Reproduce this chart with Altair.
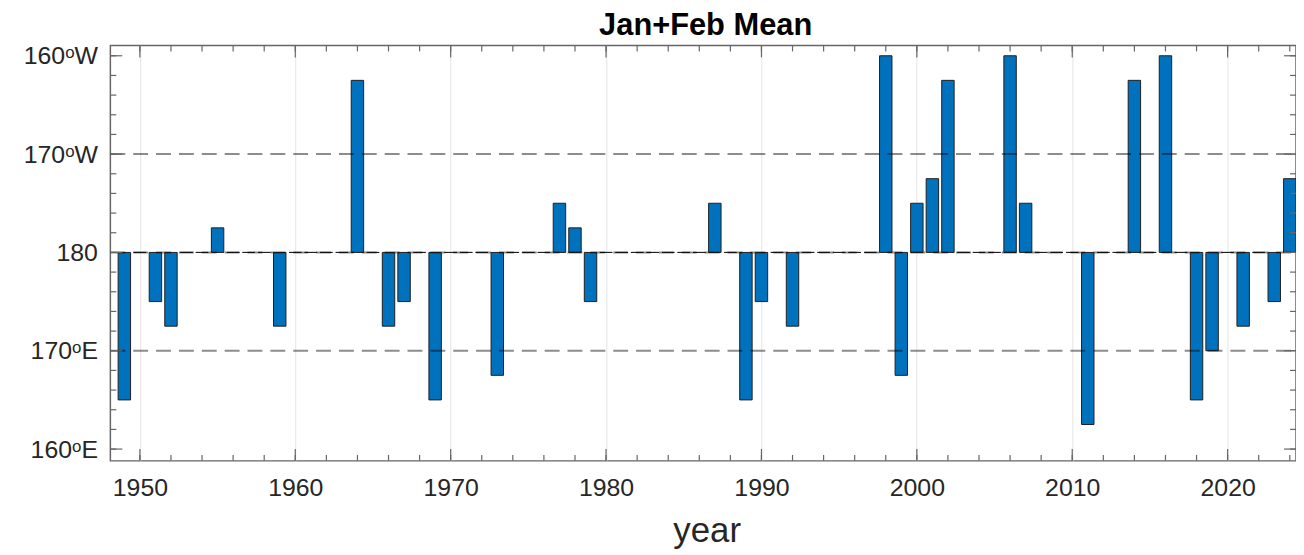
import altair as alt
import pandas as pd

# ---- data (degrees relative to the dateline; + = west of 180, - = east) ----
years = list(range(1949, 2025))
offsets = [
    -15, 0, -5, -7.5, 0, 0, 2.5, 0, 0, 0,        # 1949-1958
    -7.5, 0, 0, 0, 0, 17.5, 0, -7.5, -5, 0,      # 1959-1968
    -15, 0, 0, 0, -12.5, 0, 0, 0, 5, 2.5,        # 1969-1978
    -5, 0, 0, 0, 0, 0, 0, 0, 5, 0,               # 1979-1988
    -15, -5, 0, -7.5, 0, 0, 0, 0, 0, 20,         # 1989-1998
    -12.5, 5, 7.5, 17.5, 0, 0, 0, 20, 5, 0,      # 1999-2008
    0, 0, -17.5, 0, 0, 17.5, 0, 20, 0, -15,      # 2009-2018
    -10, 0, -7.5, 0, -5, 7.5,                    # 2019-2024
]
ytick_vals = [20, 10, 0, -10, -20]
ytick_text = ["160ᵒW", "170ᵒW", "180", "170ᵒE", "160ᵒE"]
xtick_vals = [1950, 1960, 1970, 1980, 1990, 2000, 2010, 2020]
x_minor = [1950, 1952, 1954, 1956, 1958, 1960, 1962, 1964, 1966, 1968,
           1970, 1972, 1974, 1976, 1978, 1980, 1982, 1984, 1986, 1988,
           1990, 1992, 1994, 1996, 1998, 2000, 2002, 2004, 2006, 2008,
           2010, 2012, 2014, 2016, 2018, 2020, 2022, 2024]
y_minor = [-20, -18, -16, -14, -12, -10, -8, -6, -4, -2, 0,
           2, 4, 6, 8, 10, 12, 14, 16, 18, 20]
dash_levels = [10, 0, -10]
title_text = "Jan+Feb Mean"

W, H = 1193, 418
FONT = "Liberation Sans"
TXT = "#262626"
BOX = "#666666"

bars = pd.DataFrame({"year": years, "v": offsets})

xs = alt.Scale(domain=[1948.1, 2024.4], nice=False, zero=False)
ys = alt.Scale(domain=[-21.2, 21.05], nice=False, zero=False)

expr = "''"
for v, t in zip(ytick_vals, ytick_text):
    expr = f"datum.value == {v} ? '{t}' : ({expr})"

x_axis = alt.Axis(values=xtick_vals, format="d", grid=True, gridColor="#e4e4e4", gridWidth=1,
                  ticks=False, tickSize=0, domain=False, labelFont=FONT, labelFontSize=25,
                  labelColor=TXT, labelPadding=15, labelFlush=False,
                  title="year", titleFont=FONT, titleFontSize=35, titleFontWeight="normal",
                  titleColor=TXT, titleBaseline="alphabetic", titleX=600, titleY=81,
                  titleAnchor="start", titleAlign="center")
y_axis = alt.Axis(values=ytick_vals, labelExpr=expr, grid=False, ticks=False, tickSize=0,
                  domain=False, labelFont=FONT, labelFontSize=25, labelColor=TXT,
                  labelPadding=13, title=None)

bar_layer = alt.Chart(bars).transform_calculate(
    x0="datum.year - 0.4", x1="datum.year + 0.4", z="0"
).mark_rect(fill="#0072BD", stroke="#1f1f1f", strokeWidth=1).encode(
    x=alt.X("x0:Q", scale=xs, axis=x_axis),
    x2="x1:Q",
    y=alt.Y("v:Q", scale=ys, axis=y_axis),
    y2="z:Q",
)

dash_layer = alt.Chart(pd.DataFrame({"lev": dash_levels})).mark_rule(
    stroke="black", strokeOpacity=0.45, strokeWidth=2, strokeDash=[15, 8]
).encode(y=alt.Y("lev:Q", scale=ys, axis=y_axis), x=alt.value(0), x2=alt.value(W))

def xticks(vals, length):
    d = pd.DataFrame({"t": vals})
    bot = alt.Chart(d).mark_rule(stroke=BOX, strokeWidth=1.2).encode(
        x=alt.X("t:Q", scale=xs, axis=x_axis), y=alt.value(H), y2=alt.value(H - length))
    top = alt.Chart(d).mark_rule(stroke=BOX, strokeWidth=1.2).encode(
        x=alt.X("t:Q", scale=xs, axis=x_axis), y=alt.value(0), y2=alt.value(length))
    return [bot, top]

def yticks(vals, length):
    d = pd.DataFrame({"t": vals})
    left = alt.Chart(d).mark_rule(stroke=BOX, strokeWidth=1.2).encode(
        y=alt.Y("t:Q", scale=ys, axis=y_axis), x=alt.value(0), x2=alt.value(length))
    right = alt.Chart(d).mark_rule(stroke=BOX, strokeWidth=1.2).encode(
        y=alt.Y("t:Q", scale=ys, axis=y_axis), x=alt.value(W), x2=alt.value(W - length))
    return [left, right]

title_layer = alt.Chart(pd.DataFrame({"t": [title_text]})).mark_text(
    font=FONT, fontSize=31, fontWeight="bold", color="black",
    align="center", baseline="alphabetic"
).encode(text="t:N", x=alt.value(599), y=alt.value(-11))

layers = [bar_layer, dash_layer] + xticks(xtick_vals, 12) + xticks(x_minor, 6) \
    + yticks(ytick_vals, 12) + yticks(y_minor, 6) + [title_layer]

chart = alt.layer(*layers).properties(
    width=W, height=H,
    autosize="none",
    padding={"left": 103, "top": 36, "right": 0, "bottom": 88},
    background="white",
).configure_view(stroke=BOX, strokeWidth=1.5)

chart.save("out.html", embed_options={"renderer": "svg", "actions": False})
